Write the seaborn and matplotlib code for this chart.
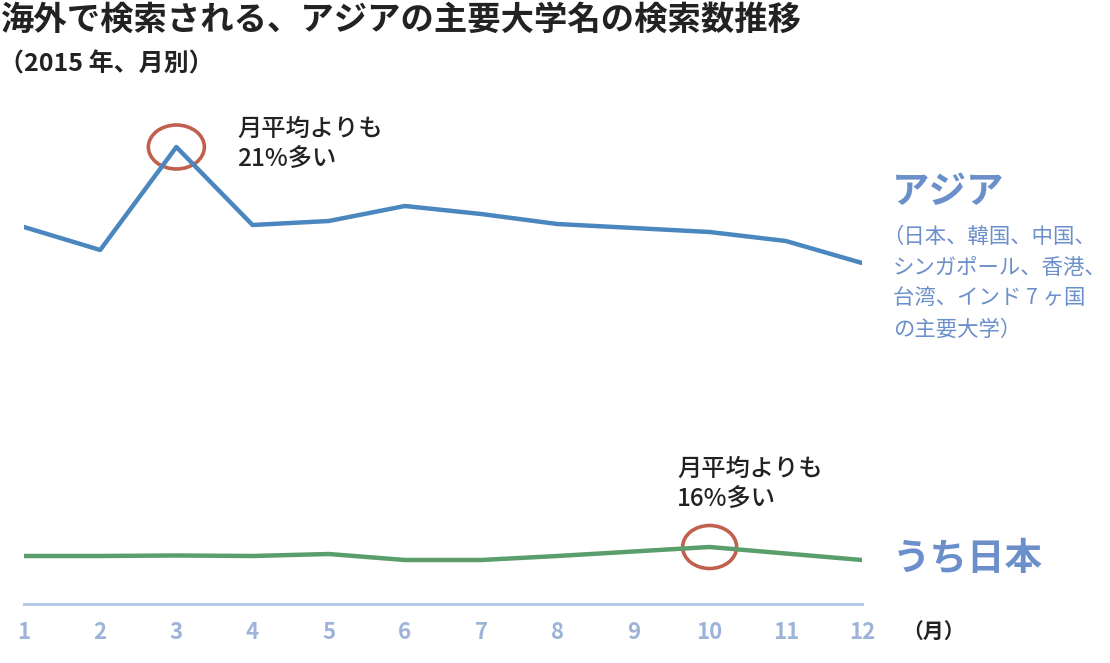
import matplotlib
matplotlib.use('Agg')
import matplotlib.pyplot as plt
from matplotlib.patches import Ellipse
import seaborn as sns
import pandas as pd

# monthly search counts (index)
months = list(range(1, 13))
asia = [377, 354, 457, 379, 383, 398, 390, 380, 376, 372, 363, 341]
japan = [48, 48, 48.5, 48, 50, 44, 44, 48, 52.5, 57, 50.5, 44]
month_labels = [str(m) for m in months]

asia_sub = ['（日本、韓国、中国、', 'シンガポール、香港、', '台湾、インド 7 ヶ国', 'の主要大学）']

BLUE = '#4b87bf'
GREEN = '#5a9f6b'
RED = '#c0604e'
LABEL = '#6b8fca'
TICK = '#9db4d8'
AXIS = '#b0c6e6'
DARK = '#222222'

sns.set_theme(style='white')
plt.rcParams['font.family'] = ['Noto Sans CJK JP', 'DejaVu Sans']

W, H = 1110, 663
fig = plt.figure(figsize=(W / 100, H / 100), dpi=100)
fig.patch.set_facecolor('white')

# axes placed by pixels: x 24..862, baseline y=604, 1 data unit = 1 px
ax = fig.add_axes([24 / W, (H - 604) / H, (862 - 24) / W, 494 / H])
ax.set_facecolor('white')

df = pd.DataFrame({'month': months, 'asia': asia, 'japan': japan})
sns.lineplot(data=df, x='month', y='asia', color=BLUE, linewidth=3.2, ax=ax)
sns.lineplot(data=df, x='month', y='japan', color=GREEN, linewidth=3.2, ax=ax)

ax.set_xlim(1, 12)
ax.set_ylim(0, 494)
ax.set_xlabel('')
ax.set_ylabel('')
ax.set_yticks([])
ax.set_xticks(months)
ax.set_xticklabels(month_labels, color=TICK, fontsize=16, fontweight='bold')
ax.tick_params(axis='x', length=0, pad=12)
for s in ['top', 'right', 'left']:
    ax.spines[s].set_visible(False)
ax.spines['bottom'].set_color(AXIS)
ax.spines['bottom'].set_linewidth(2)

# circles around the peaks
px_per_month = (862 - 24) / 11
peak_a = asia.index(max(asia))
peak_j = japan.index(max(japan))
ax.add_patch(Ellipse((months[peak_a], asia[peak_a]), 56 / px_per_month, 44,
                     fill=False, edgecolor=RED, linewidth=2.6, clip_on=False))
ax.add_patch(Ellipse((months[peak_j], japan[peak_j]), 54 / px_per_month, 43,
                     fill=False, edgecolor=RED, linewidth=2.6, clip_on=False))


def ftext(x, y, s, **kw):
    fig.text(x / W, 1 - y / H, s, **kw)


# title
ftext(1, 20, '海外で検索される、アジアの主要大学名の検索数推移', fontsize=24,
      fontweight='bold', color=DARK, va='center')
ftext(-1, 64, '（2015 年、月別）', fontsize=18, fontweight='bold', color=DARK, va='center')

# annotations
note_kw = dict(fontsize=17.5, color=DARK, va='center', fontweight='medium')
ftext(237, 129, '月平均よりも', **note_kw)
ftext(237, 160, '21%多い', **note_kw)
ftext(677, 469, '月平均よりも', **note_kw)
ftext(677, 500, '16%多い', **note_kw)

# series labels
ftext(892, 191, 'アジア', fontsize=27, fontweight='bold', color=LABEL, va='center')
for i, line in enumerate(asia_sub):
    x = 882 if line.startswith('（') else 893
    ftext(x, 237 + i * 31, line, fontsize=15.4, color=LABEL, va='center')
ftext(893, 558, 'うち日本', fontsize=27, fontweight='bold', color=LABEL, va='center')

ftext(902, 631, '（月）', fontsize=15, fontweight='bold', color=DARK, va='center')

fig.savefig('out.png', dpi=100, facecolor='white')
plt.close(fig)
